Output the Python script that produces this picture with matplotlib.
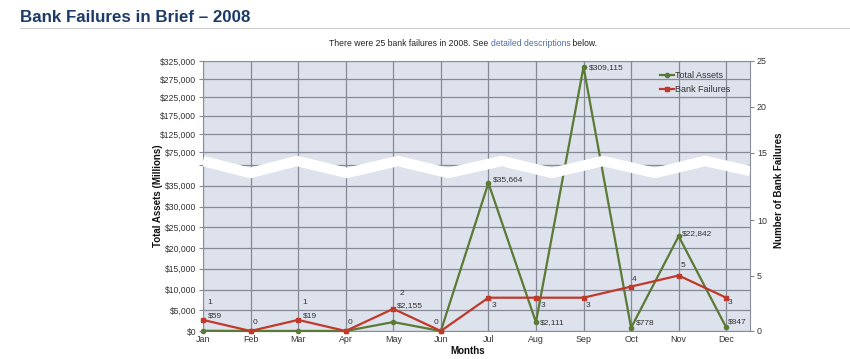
import numpy as np
import matplotlib
matplotlib.use("Agg")
import matplotlib.pyplot as plt
from matplotlib.lines import Line2D

plt.rcParams['font.family'] = ['Liberation Sans', 'DejaVu Sans']

# ---------------- data ----------------
months = ["Jan", "Feb", "Mar", "Apr", "May", "Jun", "Jul", "Aug", "Sep", "Oct", "Nov", "Dec"]
total_assets = [59, 0, 19, 0, 2155, 0, 35664, 2111, 309115, 778, 22842, 847]
bank_failures = [1, 0, 1, 0, 2, 0, 3, 3, 3, 4, 5, 3]
asset_labels = ["$59", "", "$19", "", "$2,155", "", "$35,664", "$2,111", "$309,115", "$778", "$22,842", "$847"]
failure_labels = ["1", "0", "1", "0", "2", "0", "3", "3", "3", "4", "5", "3"]
left_ticks = [0, 5000, 10000, 15000, 20000, 25000, 30000, 35000, 40000,
              75000, 125000, 175000, 225000, 275000, 325000]
left_ticklabels = ["$0", "$5,000", "$10,000", "$15,000", "$20,000", "$25,000", "$30,000", "$35,000", "",
                   "$75,000", "$125,000", "$175,000", "$225,000", "$275,000", "$325,000"]
right_ticks = [0, 5, 10, 15, 20, 25]

GREEN = "#5a7a36"
RED = "#c0392b"
GRID = "#858a96"
BG = "#dde2ec"
TXT = "#333333"


def piecewise(xp, fp):
    xp = np.asarray(xp, float)
    fp = np.asarray(fp, float)

    def f(v, a=xp, b=fp):
        v = np.asarray(v, float)
        out = np.interp(v, a, b)
        lo = v < a[0]
        hi = v > a[-1]
        s0 = (b[1] - b[0]) / (a[1] - a[0])
        s1 = (b[-1] - b[-2]) / (a[-1] - a[-2])
        out = np.where(lo, b[0] + (v - a[0]) * s0, out)
        out = np.where(hi, b[-1] + (v - a[-1]) * s1, out)
        return out
    return f


# broken-axis scales (pixel-like units from the bottom)
l_fwd = piecewise([0, 40000, 325000], [0, 166, 270])
l_inv = piecewise([0, 166, 270], [0, 40000, 325000])
r_fwd = piecewise([0, 10, 15, 25], [0, 111, 178, 270])
r_inv = piecewise([0, 111, 178, 270], [0, 10, 15, 25])

fig = plt.figure(figsize=(8.5, 3.59), dpi=100)
ax = fig.add_axes([203 / 850, 28 / 359, 547 / 850, 270 / 359])
ax.set_facecolor(BG)
x = np.arange(len(months))

ax.set_yscale('function', functions=(l_fwd, l_inv))
ax.set_ylim(0, 325000)
ax.set_xlim(0, 11.5)
ax.set_yticks(left_ticks)
ax.set_yticklabels(left_ticklabels)
ax.set_xticks(x)
ax.set_xticklabels(months)
ax.grid(True, color=GRID, linewidth=0.9)
ax.set_axisbelow(True)
ax.tick_params(axis='y', labelsize=6.2, colors=TXT, length=3, color=GRID, pad=2)
ax.tick_params(axis='x', labelsize=6.4, colors=TXT, length=0, pad=3)
for s in ax.spines.values():
    s.set_color("#8a8f99")
    s.set_linewidth(0.8)

ax2 = ax.twinx()
ax2.set_yscale('function', functions=(r_fwd, r_inv))
ax2.set_ylim(0, 25)
ax2.set_yticks(right_ticks)
ax2.tick_params(axis='y', labelsize=6.4, colors=TXT, length=3, color=GRID, pad=2)
for s in ax2.spines.values():
    s.set_visible(False)

la, = ax.plot(x, total_assets, color=GREEN, lw=1.6, marker='o', ms=3, zorder=3, clip_on=False)
lb, = ax2.plot(x, bank_failures, color=RED, lw=1.6, marker='s', ms=3.5, zorder=3, clip_on=False)

# zigzag break band (decoration, axes coordinates)
zx_px = [203, 250, 297, 347, 398, 448, 502, 552, 603, 655, 705, 750]
zy_px = [161, 173, 161, 173, 161, 173, 161, 173, 161, 173, 161, 171]
zx = [(p - 203) / 547 for p in zx_px]
zy = [(331 - p) / 270 for p in zy_px]
ax2.plot(zx, zy, transform=ax2.transAxes, color='white', lw=7.5,
         solid_joinstyle='round', solid_capstyle='butt', zorder=5, clip_on=True)

# data labels
a_off = [(5, 15), None, (5, 15), None, (4, 17), None, (4, 3), (4, 0), (5, -1), (5, 5), (3, 3), (2, 5)]
for xi, v, t, o in zip(x, total_assets, asset_labels, a_off):
    if t:
        ax.annotate(t, (xi, v), xytext=o, textcoords='offset pixels', fontsize=6,
                    color=TXT, ha='left', va='center', zorder=6)
f_off = [(4, 17), (2, 9), (4, 17), (2, 9), (6, 15), (-7, 9), (3, -8), (5, -8), (2, -8), (1, 7), (2, 10), (1, -5)]
for xi, v, t, o in zip(x, bank_failures, failure_labels, f_off):
    ax2.annotate(t, (xi, v), xytext=o, textcoords='offset pixels', fontsize=6,
                 color=TXT, ha='left', va='center', zorder=6)

# axis labels
ax.set_ylabel("Total Assets (Millions)", fontsize=7, fontweight='bold', color='#111111')
ax.yaxis.set_label_coords(-0.074, 0.5)
ax2.set_ylabel("Number of Bank Failures", fontsize=7, fontweight='bold', color='#111111')
ax2.yaxis.set_label_coords(1.043, 0.52)
ax.text(0.483, -0.075, "Months", transform=ax.transAxes, fontsize=7, fontweight='bold',
        color='#111111', ha='center', va='center')

# legend
handles = [Line2D([], [], color=GREEN, lw=1.6, marker='o', ms=3),
           Line2D([], [], color=RED, lw=1.6, marker='s', ms=3.5)]
leg = ax2.legend(handles, ["Total Assets", "Bank Failures"], loc='upper right',
                 bbox_to_anchor=(0.975, 0.985), frameon=False, fontsize=6.5,
                 handlelength=1.5, handletextpad=0.1, labelspacing=0.5, borderpad=0.2)
leg.set_zorder(7)
for t in leg.get_texts():
    t.set_color(TXT)

# title and subtitle
fig.text(20 / 850, 1 - 17 / 359, "Bank Failures in Brief \u2013 2008", fontsize=12.2, fontweight='bold',
         color='#1d3b69', ha='left', va='center')
fig.add_artist(Line2D([20 / 850, 1.0], [1 - 28 / 359, 1 - 28 / 359], color='#cccccc', lw=0.8))
t1 = fig.text(329 / 850, 1 - 43 / 359, "There were 25 bank failures in 2008. See ", fontsize=6.2,
              color='#222222', ha='left', va='center')
t2 = fig.text(0, 0, "detailed descriptions", fontsize=6.2, color='#4a6fa5')
fig.canvas.draw()
r = fig.canvas.get_renderer()
bb = t1.get_window_extent(r)
t2.set_position((bb.x1 / (850), 1 - 43 / 359))
t2.set_va('center')
fig.canvas.draw()
bb2 = t2.get_window_extent(r)
fig.text(bb2.x1 / 850, 1 - 43 / 359, " below.", fontsize=6.2, color='#222222', ha='left', va='center')

fig.savefig("out.png", dpi=100)
